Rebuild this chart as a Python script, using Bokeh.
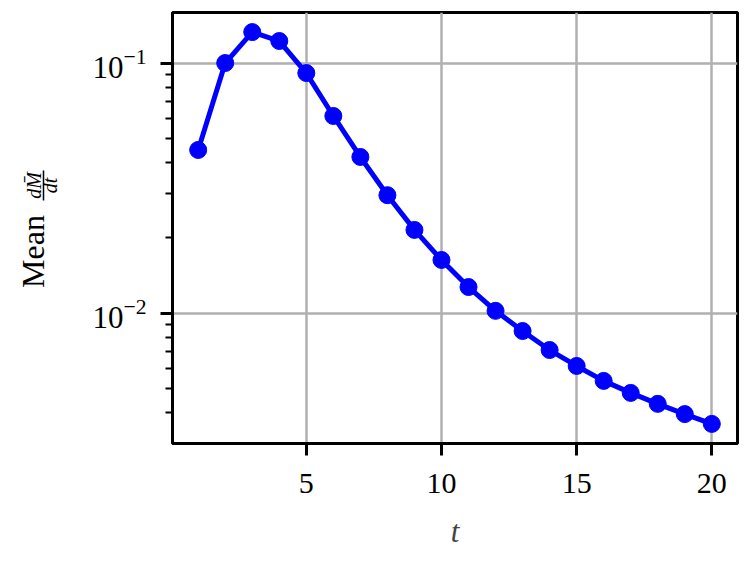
from bokeh.plotting import figure
from bokeh.layouts import row
from bokeh.models import Range1d, FixedTicker, ColumnDataSource
from bokeh.core.properties import value
from bokeh.embed import file_html
from bokeh.resources import INLINE
import math

# ---- data ----
t_values = [1, 2, 3, 4, 5, 6, 7, 8, 9, 10, 11, 12, 13, 14, 15, 16, 17, 18, 19, 20]
mean_dMdt = [0.0449, 0.1000, 0.1330, 0.1225, 0.0912, 0.0614, 0.0421, 0.0296, 0.0215, 0.0163,
             0.0127, 0.0102, 0.00847, 0.00711, 0.00614, 0.00535, 0.00479, 0.00433, 0.00394, 0.00360]
x_ticks = [5, 10, 15, 20]
y_ticks = [0.01, 0.1]
y_minor_ticks = [0.003, 0.004, 0.005, 0.006, 0.007, 0.008, 0.009,
                 0.02, 0.03, 0.04, 0.05, 0.06, 0.07, 0.08, 0.09]
x_label = "t"
y_label_word = "Mean"
y_label_num = "dM\u0304"
y_label_den = "dt"

FONT = "Liberation Serif"
BLUE = "#0000ff"
GRID = "#b0b0b0"

# layout (pixels)
W, H = 748, 561
LW = 70                               # width of the y-label strip
FL, FT, FR, FB = 172, 12, 737, 443    # frame edges on the page

# matplotlib-style 5% margins
xmin, xmax = min(t_values), max(t_values)
xpad = (xmax - xmin) * 0.05
lmin, lmax = math.log10(min(mean_dMdt)), math.log10(max(mean_dMdt))
lpad = (lmax - lmin) * 0.05

p = figure(width=W - LW, height=H, y_axis_type="log",
           x_range=Range1d(xmin - xpad, xmax + xpad),
           y_range=Range1d(10 ** (lmin - lpad), 10 ** (lmax + lpad)),
           output_backend="svg", toolbar_location=None,
           min_border_left=FL - LW, min_border_right=W - FR, min_border_top=FT,
           min_border_bottom=H - FB)

p.background_fill_color = "white"
p.border_fill_color = "white"
p.outline_line_color = "black"
p.outline_line_width = 3

src = ColumnDataSource(dict(t=t_values, v=mean_dMdt))
p.line("t", "v", source=src, line_color=BLUE, line_width=5)
p.scatter("t", "v", source=src, size=17, fill_color=BLUE, line_color=BLUE)

p.xaxis.ticker = FixedTicker(ticks=x_ticks)
p.yaxis.ticker = FixedTicker(ticks=y_ticks, minor_ticks=y_minor_ticks)

for ax in (p.xaxis[0], p.yaxis[0]):
    ax.axis_line_color = "black"
    ax.axis_line_width = 3
    ax.major_tick_line_color = "black"
    ax.major_tick_line_width = 3
    ax.major_tick_out = 12
    ax.major_tick_in = 0
    ax.minor_tick_line_color = "black"
    ax.minor_tick_line_width = 2
    ax.minor_tick_out = 7
    ax.minor_tick_in = 0
    ax.major_label_text_font = FONT
    ax.major_label_text_color = "black"
    ax.major_label_text_font_style = "normal"

p.xaxis.major_label_text_font_size = "30px"
p.yaxis.major_label_text_font_size = "31px"
p.xaxis.minor_tick_line_color = None
p.xaxis.major_label_standoff = 18
p.xaxis.axis_label = x_label
p.xaxis.axis_label_text_font = FONT
p.xaxis.axis_label_text_font_style = "italic"
p.xaxis.axis_label_text_font_size = "31px"
p.xaxis.axis_label_standoff = 18
p.yaxis.major_label_standoff = 14

p.xgrid.grid_line_color = GRID
p.ygrid.grid_line_color = GRID
p.xgrid.grid_line_width = 2.5
p.ygrid.grid_line_width = 2.5

# ---- y label strip: text pieces placed in a pixel-coordinate figure ----
# (its frame is aligned with the main frame vertically by the row layout)
lp = figure(width=LW, height=H, x_range=Range1d(0, LW), y_range=Range1d(H - FB, H - FT),
            output_backend="svg", toolbar_location=None,
            x_axis_location=None, y_axis_location=None,
            min_border_left=0, min_border_right=0,
            min_border_top=FT, min_border_bottom=H - FB)
lp.outline_line_color = None
lp.background_fill_color = "white"
lp.border_fill_color = "white"
lp.grid.visible = False

# label anchor positions (page pixels, y from top)
lp.text(x=[32], y=[H - 251], text=[y_label_word], angle=math.pi / 2,
        text_font=value(FONT), text_font_size="32px", text_align="center",
        text_baseline="alphabetic", text_color="black")
lp.text(x=[33, 49], y=[H - 185, H - 185], text=[y_label_num, y_label_den], angle=math.pi / 2,
        text_font=value(FONT), text_font_style="italic", text_font_size="20px",
        text_align="center", text_baseline="alphabetic", text_color="black")
lp.segment(x0=[43], y0=[H - 170], x1=[43], y1=[H - 200], line_color="black", line_width=1.5)

layout = row(lp, p, spacing=0)
open("out.html", "w").write(file_html(layout, INLINE))
